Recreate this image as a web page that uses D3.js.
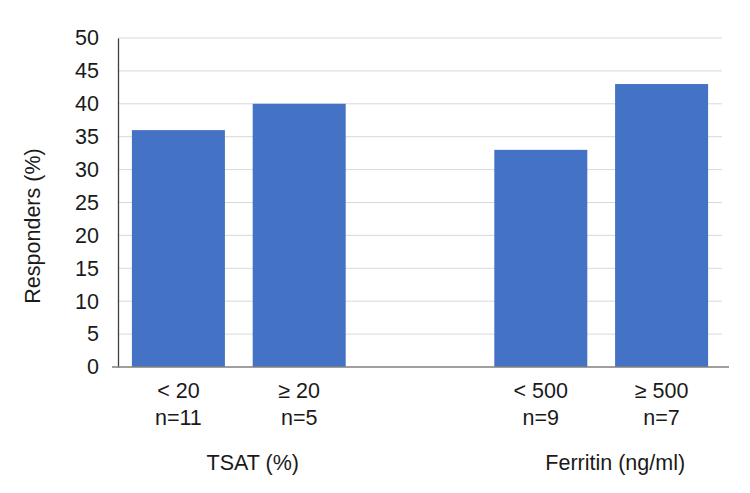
<!DOCTYPE html>
<html>
<head>
<meta charset="utf-8">
<script src="https://cdn.jsdelivr.net/npm/d3@7"></script>
<style>
  body { margin: 0; background: #fff; }
  text { font-family: "Liberation Sans", Arial, sans-serif; fill: #1a1a1a; }
</style>
</head>
<body>
<svg id="chart"></svg>
<script>
// data
var categories = ["< 20|n=11", "≥ 20|n=5", "gap", "< 500|n=9", "≥ 500|n=7"];
var values = [36, 40, null, 33, 43];
var groups = ["TSAT (%)", "Ferritin (ng/ml)"];
var groupSpans = [[0, 1], [3, 4]];
var yTicks = [0, 5, 10, 15, 20, 25, 30, 35, 40, 45, 50];

var width = 750, height = 493;
var margin = {left: 118, right: 28, top: 38, bottom: 126};
var fontSize = '21.5px';

var svg = d3.select('#chart')
    .attr('width', width)
    .attr('height', height);

var x = d3.scaleBand()
    .domain(categories)
    .range([margin.left, width - margin.right])
    .paddingInner(0.23)
    .paddingOuter(0.115);

var y = d3.scaleLinear()
    .domain([0, 50])
    .range([height - margin.bottom, margin.top]);

// gridlines
svg.append('g')
    .selectAll('line')
    .data(yTicks.slice(1))
    .enter().append('line')
    .attr('x1', margin.left)
    .attr('x2', width - margin.right)
    .attr('y1', d => y(d))
    .attr('y2', d => y(d))
    .style('stroke', '#d9d9d9')
    .style('stroke-width', 1);

// bars
svg.append('g')
    .selectAll('rect')
    .data(categories.map((c, i) => ({c: c, v: values[i]})).filter(d => d.v != null))
    .enter().append('rect')
    .attr('x', d => x(d.c))
    .attr('width', x.bandwidth())
    .attr('y', d => y(d.v))
    .attr('height', d => y(0) - y(d.v))
    .style('fill', '#4472c4');

// y axis
var yAxis = svg.append('g')
    .attr('transform', 'translate(' + margin.left + ',0)')
    .call(d3.axisLeft(y).tickValues(yTicks).tickSize(0).tickPadding(19));
yAxis.select('.domain').style('stroke', '#404040').style('stroke-width', 1.3);
yAxis.selectAll('text')
    .style('font-size', fontSize)
    .style('font-family', '"Liberation Sans", Arial, sans-serif')
    .style('fill', '#1a1a1a');

// baseline
svg.append('line')
    .attr('x1', margin.left - 6)
    .attr('x2', width - margin.right + 7)
    .attr('y1', y(0))
    .attr('y2', y(0))
    .style('stroke', '#7f7f7f')
    .style('stroke-width', 1.3);

// category labels
var catLabels = svg.append('g')
    .selectAll('text')
    .data(categories.filter(c => c !== 'gap'))
    .enter().append('text')
    .attr('text-anchor', 'middle')
    .style('font-size', fontSize)
    .attr('x', d => x(d) + x.bandwidth() / 2)
    .attr('y', y(0) + 31);
catLabels.selectAll('tspan')
    .data(d => d.split('|'))
    .enter().append('tspan')
    .attr('x', function () { return d3.select(this.parentNode).attr('x'); })
    .attr('dy', (d, i) => i === 0 ? 0 : 27)
    .text(d => d);

// group labels
svg.append('g')
    .selectAll('text')
    .data(groups)
    .enter().append('text')
    .attr('text-anchor', 'middle')
    .style('font-size', fontSize)
    .attr('x', (d, i) => (x(categories[groupSpans[i][0]]) + x(categories[groupSpans[i][1]]) + x.bandwidth()) / 2 + 14)
    .attr('y', y(0) + 103)
    .text(d => d);

// y axis title
svg.append('text')
    .attr('transform', 'translate(40,' + 226 + ') rotate(-90)')
    .attr('text-anchor', 'middle')
    .style('font-size', fontSize)
    .text('Responders (%)');
</script>
</body>
</html>
